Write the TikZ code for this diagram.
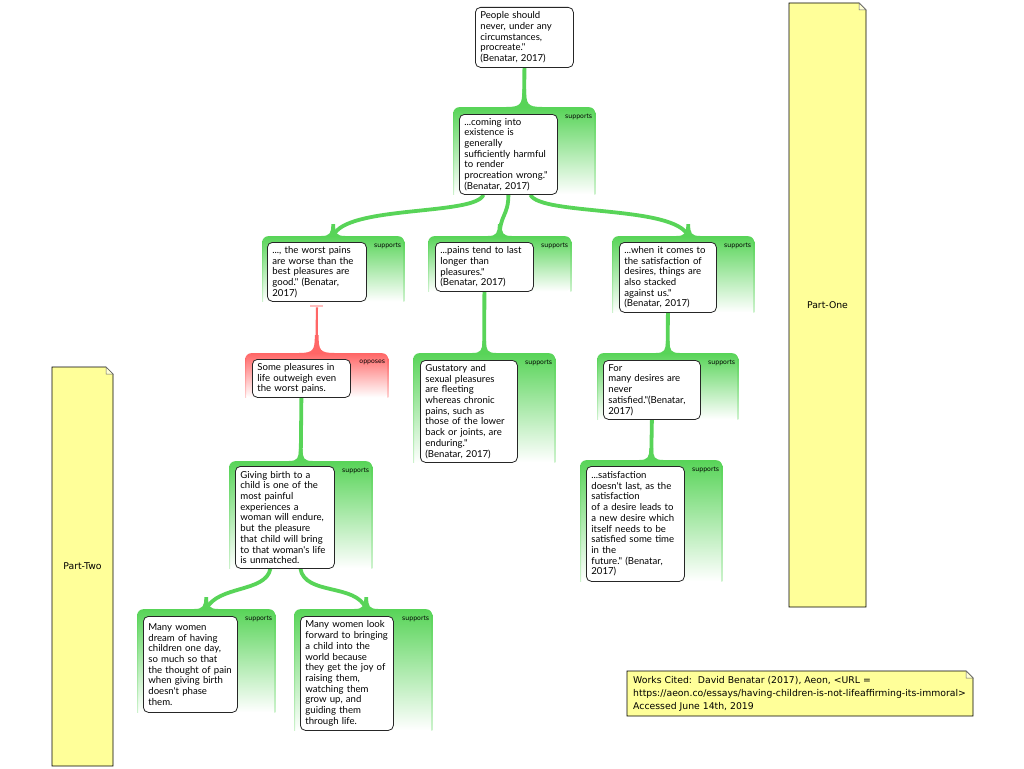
\documentclass[tikz,border=0pt]{standalone}
\usepackage{fontspec}
\usetikzlibrary{calc}
\newfontfamily\boxfont{Lato}
\newfontfamily\notefont{DejaVu Sans}
\definecolor{gr}{RGB}{88,212,88}
\definecolor{rd}{RGB}{255,102,102}
\definecolor{pk}{RGB}{255,190,190}
\definecolor{ny}{RGB}{255,255,153}
\pgfdeclarelayer{bg}
\pgfdeclarelayer{mid}
\pgfsetlayers{bg,mid,main}
\tikzset{
 frame/.style={anchor=north west, inner sep=0pt, rounded corners=6pt, top color=gr, bottom color=white},
 rframe/.style={anchor=north west, inner sep=0pt, rounded corners=6pt, top color=rd, bottom color=white},
 claim/.style={anchor=north west, draw=black!85, line width=0.8pt, fill=white, rounded corners=5pt, inner xsep=5pt, inner ysep=2pt, align=left, font=\boxfont\fontsize{9.6}{10.7}\selectfont},
 rel/.style={anchor=north east, inner sep=0pt, font=\notefont\fontsize{6.2}{7}\selectfont},
 conn/.style={draw=gr, line width=3.8pt},
 rconn/.style={draw=rd, line width=2.2pt},
 notebox/.style={fill=ny, draw=black, line width=0.7pt},
 notefold/.style={fill=ny!40!white, draw=black!60, line width=0.5pt},
 notetext/.style={inner sep=0pt, align=left, font=\notefont\fontsize{9.3}{13}\selectfont},
}
\newcommand\flare[3][12]{%
 \fill[#2] ($(#3)+(-#1,0)$) .. controls ($(#3)+(-3,0)$) and ($(#3)+(-1.9,-3)$) .. ($(#3)+(-1.9,-#1)$) -- ($(#3)+(1.9,-#1)$) .. controls ($(#3)+(1.9,-3)$) and ($(#3)+(3,0)$) .. ($(#3)+(#1,0)$) -- cycle;}
\newcommand\edges[2]{%
 \shade[top color=#2, bottom color=#2!30] ([yshift=-5pt]#1.north west) rectangle ([xshift=1pt]#1.south west);
 \shade[top color=#2, bottom color=#2!30] ([yshift=-5pt]#1.north east) rectangle ([xshift=-1pt]#1.south east);}
\begin{document}
\begin{tikzpicture}[x=1pt,y=-1pt]
\begin{pgfonlayer}{bg}
\fill[white] (0,0) rectangle (1024,768);
\end{pgfonlayer}
\useasboundingbox (0,0) rectangle (1024,768);

% notes
\draw[notebox] (789,3) -- (859,3) -- (866,10) -- (866,607) -- (789,607) -- cycle;
\draw[notefold] (859,3) -- (859,10) -- (866,10) -- cycle;
\node[notetext] (p1) at (827.5,305) {Part-One};
\draw[notebox] (52,367) -- (106,367) -- (113,374) -- (113,766) -- (52,766) -- cycle;
\draw[notefold] (106,367) -- (106,374) -- (113,374) -- cycle;
\node[notetext] (p2) at (82.5,566) {Part-Two};
\draw[notebox] (627,671) -- (966,671) -- (973,678) -- (973,716) -- (627,716) -- cycle;
\draw[notefold] (966,671) -- (966,678) -- (973,678) -- cycle;
\node[notetext, anchor=west] (wc) at (633,694) {Works Cited:\ \ David Benatar (2017), Aeon, <URL =\\https://aeon.co/essays/having-children-is-not-lifeaffirming-its-immoral>\\Accessed June 14th, 2019};

% frames
\begin{pgfonlayer}{bg}
\node[frame, minimum width=142pt, minimum height=87pt] (f2) at (453,107) {};
\node[frame, minimum width=142pt, minimum height=65pt] (f3) at (262,236) {};
\node[frame, minimum width=143pt, minimum height=55pt] (f4) at (428,236) {};
\node[frame, minimum width=142pt, minimum height=76pt] (f5) at (612,236) {};
\node[rframe, minimum width=143pt, minimum height=44pt] (f6) at (245,353) {};
\node[frame, minimum width=142pt, minimum height=109pt] (f7) at (413,353) {};
\node[frame, minimum width=141pt, minimum height=66pt] (f8) at (597,353) {};
\node[frame, minimum width=143pt, minimum height=107pt] (f9) at (229,461) {};
\node[frame, minimum width=142pt, minimum height=121pt] (f10) at (580,460) {};
\node[frame, minimum width=138pt, minimum height=103pt] (f11) at (137,609) {};
\node[frame, minimum width=138pt, minimum height=121pt] (f12) at (294,609) {};
\foreach \f in {f2,f3,f4,f5,f7,f8,f9,f10,f11,f12} {\edges{\f}{gr}}
\edges{f6}{rd}
\end{pgfonlayer}

% relation labels
\node[rel] (l2) at ([xshift=-3pt,yshift=-7pt]f2.north east) {supports};
\node[rel] (l3) at ([xshift=-3pt,yshift=-7pt]f3.north east) {supports};
\node[rel] (l4) at ([xshift=-3pt,yshift=-7pt]f4.north east) {supports};
\node[rel] (l5) at ([xshift=-3pt,yshift=-7pt]f5.north east) {supports};
\node[rel] (l6) at ([xshift=-3pt,yshift=-7pt]f6.north east) {opposes};
\node[rel] (l7) at ([xshift=-3pt,yshift=-7pt]f7.north east) {supports};
\node[rel] (l8) at ([xshift=-3pt,yshift=-7pt]f8.north east) {supports};
\node[rel] (l9) at ([xshift=-3pt,yshift=-7pt]f9.north east) {supports};
\node[rel] (l10) at ([xshift=-3pt,yshift=-7pt]f10.north east) {supports};
\node[rel] (l11) at ([xshift=-3pt,yshift=-7pt]f11.north east) {supports};
\node[rel] (l12) at ([xshift=-3pt,yshift=-7pt]f12.north east) {supports};

% claims
\path (475,7) node[claim, text width=88pt, minimum height=60pt] (b1) {People should\\never, under any\\circumstances,\\procreate."\\(Benatar, 2017)};
\path (459,114) node[claim, text width=88pt, minimum height=80pt] (b2) {...coming into\\existence is\\generally\\sufficiently harmful\\to render\\procreation wrong."\\(Benatar, 2017)};
\path (267,242) node[claim, text width=89pt, minimum height=59pt] (b3) {..., the worst pains\\are worse than the\\best pleasures are\\good." (Benatar,\\2017)};
\path (435,242) node[claim, text width=88pt, minimum height=49pt] (b4) {...pains tend to last\\longer than\\pleasures."\\(Benatar, 2017)};
\path (619,242) node[claim, text width=87pt, minimum height=70pt] (b5) {...when it comes to\\the satisfaction of\\desires, things are\\also stacked\\against us."\\(Benatar, 2017)};
\path (252,359) node[claim, text width=88pt, minimum height=38pt] (b6) {Some pleasures in\\life outweigh even\\the worst pains.};
\path (420,360) node[claim, text width=87pt, minimum height=102pt] (b7) {Gustatory and\\sexual pleasures\\are fleeting\\whereas chronic\\pains, such as\\those of the lower\\back or joints, are\\enduring."\\(Benatar, 2017)};
\path (603,360) node[claim, text width=87pt, minimum height=59pt] (b8) {For\\many desires are\\never\\satisfied."(Benatar,\\2017)};
\path (235,466) node[claim, text width=89pt, minimum height=102pt] (b9) {Giving birth to a\\child is one of the\\most painful\\experiences a\\woman will endure,\\but the pleasure\\that child will bring\\to that woman's life\\is unmatched.};
\path (586,466) node[claim, text width=88pt, minimum height=115pt] (b10) {...satisfaction\\doesn't last, as the\\satisfaction\\of a desire leads to\\a new desire which\\itself needs to be\\satisfied some time\\in the\\future." (Benatar,\\2017)};
\path (143,616) node[claim, text width=84pt, minimum height=96pt] (b11) {Many women\\dream of having\\children one day,\\so much so that\\the thought of pain\\when giving birth\\doesn't phase\\them.};
\path (300,616) node[claim, text width=83pt, minimum height=114pt] (b12) {Many women look\\forward to bringing\\a child into the\\world because\\they get the joy of\\raising them,\\watching them\\grow up, and\\guiding them\\through life.};

% connectors (drawn beneath the claims)
\begin{pgfonlayer}{mid}
\draw[conn] (b1.south) -- (f2.north); \flare[18]{gr}{f2.north}
\coordinate (s3) at ([xshift=-25pt]b2.south);
\draw[conn] (s3) .. controls ($(b2.south)+(-33,21)$) and ($(f3.north)+(12,-31)$) .. (f3.north); \flare{gr}{f3.north}
\draw[conn] (b2.south) .. controls ($(b2.south)+(0,21)$) and ($(f4.north)+(0,-21)$) .. (f4.north); \flare{gr}{f4.north}
\coordinate (s5) at ([xshift=22pt]b2.south);
\coordinate (e5) at ([xshift=5pt]f5.north);
\draw[conn] (s5) .. controls ($(b2.south)+(32,21)$) and ($(e5)+(-13,-31)$) .. (e5); \flare{gr}{e5}
\coordinate (rb) at ([yshift=-4pt]b3.south);
\draw[rconn] ([yshift=-1.5pt]rb) -- (f6.north); \flare[18]{rd}{f6.north}
\draw[pk, line width=2pt] ([xshift=-6.5pt]rb) -- ([xshift=6.5pt]rb);
\draw[conn] (b4.south) -- (f7.north); \flare{gr}{f7.north}
\draw[conn] (b5.south) -- (f8.north); \flare{gr}{f8.north}
\draw[conn] (b8.south) -- (f10.north); \flare{gr}{f10.north}
\draw[conn] (b6.south) -- (f9.north); \flare{gr}{f9.north}
\coordinate (s11) at ([xshift=-14.5pt]b9.south);
\draw[conn] (s11) .. controls ($(b9.south)+(-19.5,24)$) and ($(f11.north)+(12,-24)$) .. (f11.north); \flare{gr}{f11.north}
\coordinate (s12) at ([xshift=15.5pt]b9.south);
\coordinate (e12) at ([xshift=3pt]f12.north);
\draw[conn] (s12) .. controls ($(b9.south)+(20.5,27)$) and ($(e12)+(-10,-26)$) .. (e12); \flare{gr}{e12}
\end{pgfonlayer}
\end{tikzpicture}
\end{document}
